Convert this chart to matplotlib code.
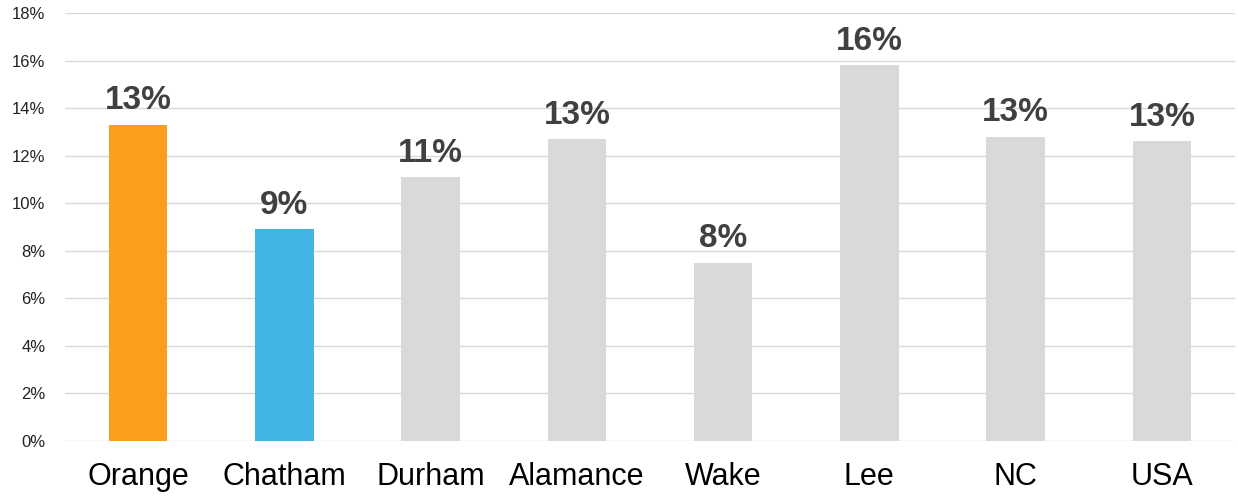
import matplotlib
matplotlib.use("Agg")
import matplotlib.pyplot as plt
from matplotlib.ticker import PercentFormatter, MultipleLocator

categories = ["Orange", "Chatham", "Durham", "Alamance", "Wake", "Lee", "NC", "USA"]
values = [13.3, 8.9, 11.1, 12.7, 7.5, 15.8, 12.8, 12.6]
labels = ["13%", "9%", "11%", "13%", "8%", "16%", "13%", "13%"]
colors = ["#FC9D1E", "#42B5E5", "#D9D9D9", "#D9D9D9", "#D9D9D9", "#D9D9D9", "#D9D9D9", "#D9D9D9"]

fig = plt.figure(figsize=(12.38, 4.99), dpi=100)
ax = fig.add_axes([65/1238, 58/499, 1170/1238, 428/499])

x = list(range(len(categories)))
bars = ax.bar(x, values, width=0.4, color=colors, zorder=3)
ax.set_xlim(-0.5, len(categories) - 0.5)
ax.set_ylim(0, 18)
ax.yaxis.set_major_locator(MultipleLocator(2))
ax.yaxis.set_major_formatter(PercentFormatter(decimals=0))
ax.grid(axis="y", color="#D9D9D9", linewidth=1, zorder=0)
for s in ax.spines.values():
    s.set_visible(False)
ax.tick_params(axis="both", length=0)
ax.tick_params(axis="y", pad=14, labelsize=12, labelcolor="#222222")
ax.set_xticks(x)
ax.set_xticklabels(categories, fontsize=22, family=["Liberation Sans", "DejaVu Sans"])
ax.tick_params(axis="x", pad=15)
for lab in ax.get_yticklabels():
    lab.set_family(["Liberation Sans", "DejaVu Sans"])

for xi, v, t in zip(x, values, labels):
    ax.annotate(t, (xi, v), xytext=(0, 6), textcoords="offset points",
                ha="center", va="bottom", fontsize=24, fontweight="bold",
                color="#404040", family=["Liberation Sans", "DejaVu Sans"])

fig.savefig("out.png", dpi=100)
